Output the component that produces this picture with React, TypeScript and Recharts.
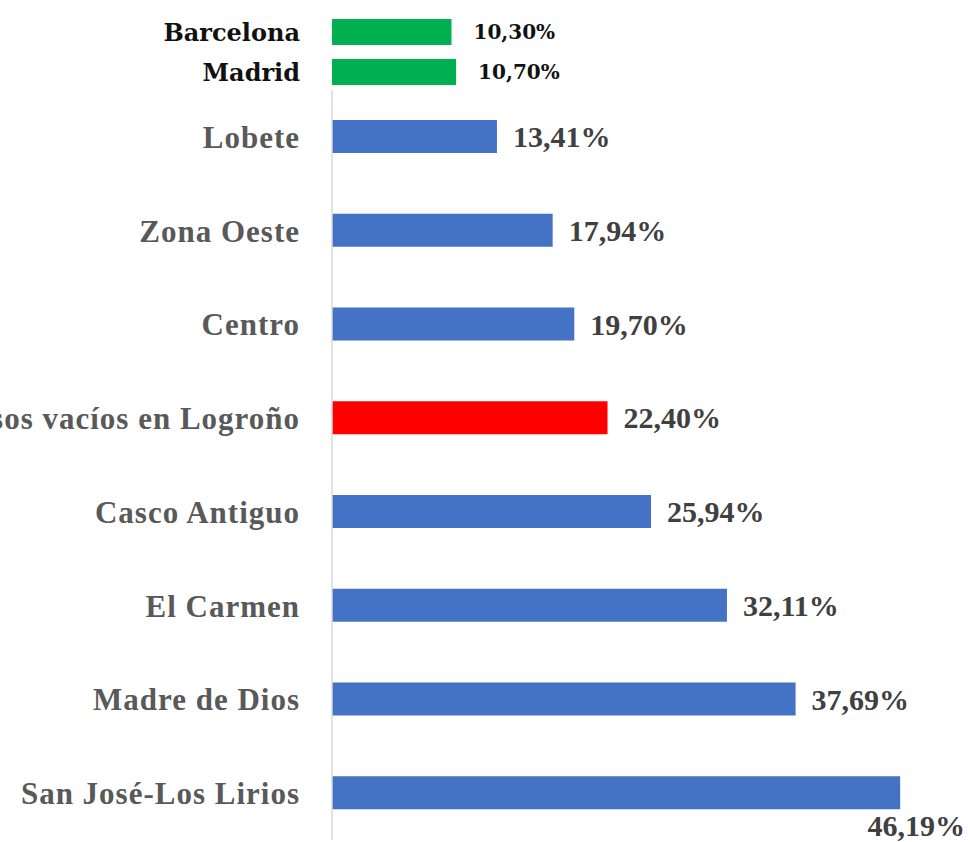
import React from 'react';
import { BarChart, Bar, XAxis, YAxis, Cell, LabelList } from 'recharts';

// top block: the two reference cities
const cityNames = ['Barcelona', 'Madrid'];
const cityValues = [10.3, 10.7];

// main block: Logroño districts
const districtNames = [
  'Lobete',
  'Zona Oeste',
  'Centro',
  'Pisos vacíos en Logroño',
  'Casco Antiguo',
  'El Carmen',
  'Madre de Dios',
  'San José-Los Lirios',
];
const districtValues = [13.41, 17.94, 19.7, 22.4, 25.94, 32.11, 37.69, 46.19];
const highlightName = 'Pisos vacíos en Logroño';

const SERIF = '"Liberation Serif", "DejaVu Serif", serif';
const WIDE_SERIF = '"DejaVu Serif", serif';
const BLUE = '#4472C4';
const RED = '#FF0000';
const GREEN = '#00B050';

const pct = (v: number) => v.toFixed(2).replace('.', ',') + '%';

const cityData = cityNames.map((name, i) => ({ name, value: cityValues[i] }));
const districtData = districtNames.map((name, i) => ({ name, value: districtValues[i] }));

// value label: right of the bar, or tucked under it when there is no room
function DistrictLabel(props: any) {
  const { x, y, width, height, value } = props;
  const end = x + width;
  const fits = end + 16 + 100 < 962;
  if (fits) {
    return (
      <text x={end + 16} y={y + height / 2} dy="0.35em" fill="#404040"
        fontFamily={SERIF} fontWeight={700} fontSize={30}>
        {pct(value)}
      </text>
    );
  }
  return (
    <text x={965} y={y + height + 16} dy="0.35em" textAnchor="end" fill="#404040"
      fontFamily={SERIF} fontWeight={700} fontSize={30}>
      {pct(value)}
    </text>
  );
}

function CityLabel(props: any) {
  const { x, y, width, height, value } = props;
  return (
    <text x={x + width + 22} y={y + height / 2} dy="0.35em" fill="#111"
      fontFamily={WIDE_SERIF} fontWeight={700} fontSize={20}>
      {pct(value)}
    </text>
  );
}

export default function App() {
  return (
    <div style={{ position: 'absolute', left: 0, top: 0, width: 970, height: 842, background: '#fff', overflow: 'hidden' }}>
      <div style={{ position: 'absolute', left: 0, top: 0 }}>
        <BarChart width={970} height={842} data={districtData} layout="vertical"
          margin={{ top: 90, right: 23, bottom: 2, left: 0 }} barCategoryGap={0}>
          <XAxis type="number" domain={[0, 50]} hide />
          <YAxis type="category" dataKey="name" width={332} tickLine={false} tickSize={0} tickMargin={32}
            axisLine={{ stroke: '#d9d9d9', strokeWidth: 1.5 }}
            tick={{ fill: '#595959', fontFamily: SERIF, fontWeight: 700, fontSize: 31, letterSpacing: 1 }} interval={0} />
          <Bar dataKey="value" barSize={33} isAnimationActive={false}>
            {districtData.map((d) => (
              <Cell key={d.name} fill={d.name === highlightName ? RED : BLUE} />
            ))}
            <LabelList dataKey="value" content={DistrictLabel} />
          </Bar>
        </BarChart>
      </div>
      <div style={{ position: 'absolute', left: 0, top: 0 }}>
        <BarChart width={970} height={92} data={cityData} layout="vertical"
          margin={{ top: 12, right: 58, bottom: 0, left: 0 }} barCategoryGap={0}>
          <XAxis type="number" domain={[0, 50]} hide />
          <YAxis type="category" dataKey="name" width={332} tickLine={false} tickSize={0} tickMargin={32}
            axisLine={false} interval={0}
            tick={{ fill: '#111', fontFamily: WIDE_SERIF, fontWeight: 700, fontSize: 24 }} />
          <Bar dataKey="value" fill={GREEN} barSize={26} isAnimationActive={false}>
            <LabelList dataKey="value" content={CityLabel} />
          </Bar>
        </BarChart>
      </div>
    </div>
  );
}
